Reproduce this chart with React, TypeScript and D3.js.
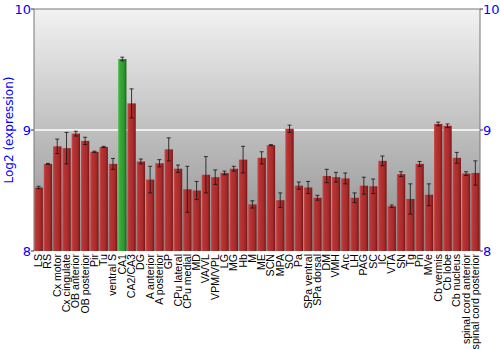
import React from "react";
import * as d3 from "d3";

const categories = ["LS","RS","Cx motor","Cx cingulate","OB anterior","OB posterior","Pir","Tu","ventral S","CA1","CA2/CA3","DG","A anterior","A posterior","GP","CPu lateral","CPu medial","MD","VA/VL","VPM/VPL","LG","MG","Hb","M","ME","SCN","MPA","SO","Pa","SPa ventral","SPa dorsal","DM","VMH","Arc","LH","PAG","SC","IC","VTA","SN","Tg","Pn","MVe","Cb vermis","Cb lobe","Cb nucleus","spinal cord anterior","spinal cord posterior"];
const values = [8.525,8.72,8.865,8.85,8.97,8.91,8.82,8.86,8.72,9.587,9.22,8.74,8.59,8.725,8.84,8.68,8.51,8.50,8.63,8.61,8.645,8.68,8.755,8.385,8.77,8.875,8.42,9.01,8.54,8.525,8.44,8.62,8.61,8.60,8.44,8.54,8.535,8.745,8.37,8.635,8.43,8.72,8.465,9.05,9.035,8.77,8.64,8.645];
const errors = [0.01,0.004,0.06,0.13,0.02,0.03,0.005,0.005,0.045,0.015,0.12,0.02,0.11,0.03,0.095,0.03,0.19,0.075,0.15,0.06,0.015,0.02,0.11,0.03,0.05,0.004,0.06,0.03,0.03,0.05,0.02,0.055,0.04,0.045,0.04,0.07,0.06,0.04,0.01,0.02,0.125,0.02,0.09,0.015,0.015,0.045,0.015,0.1];
const highlighted = ["CA1"];
const yTicks = [8, 9, 10];

export default function App() {
  const W = 500, H = 350;
  const left = 34, right = 480, top = 9, bottom = 251;
  const x = d3.scaleBand<string>().domain(categories).range([left, right]).paddingInner(0.1).paddingOuter(0.05);
  const y = d3.scaleLinear().domain([8, 10]).range([bottom, top]);
  const bw = x.bandwidth();
  return (
    <svg width={W} height={H} style={{ position: "absolute", left: 0, top: 0 }}>
      <defs>
        <linearGradient id="bg" x1="0" y1="0" x2="0" y2="1">
          <stop offset="0" stopColor="#f2f2f2" />
          <stop offset="1" stopColor="#8c8c8c" />
        </linearGradient>
        <linearGradient id="red" x1="0" y1="0" x2="1" y2="0">
          <stop offset="0" stopColor="#c85050" />
          <stop offset="0.2" stopColor="#b83434" />
          <stop offset="0.7" stopColor="#a82a2a" />
          <stop offset="1" stopColor="#701818" />
        </linearGradient>
        <linearGradient id="green" x1="0" y1="0" x2="1" y2="0">
          <stop offset="0" stopColor="#5cc05c" />
          <stop offset="0.2" stopColor="#3aaa3a" />
          <stop offset="0.7" stopColor="#2e962e" />
          <stop offset="1" stopColor="#1a661a" />
        </linearGradient>
      </defs>
      <rect x={left} y={top} width={right - left} height={bottom - top} fill="url(#bg)" />
      <line x1={left} x2={right} y1={y(9)} y2={y(9)} stroke="#ffffff" strokeWidth={1.5} />
      <path d={`M${left},${bottom}V${top}H${right}V${bottom}`} fill="none" stroke="#777" strokeWidth={1} />
      {categories.map((c, i) => {
        const x0 = x(c)!;
        const hi = highlighted.includes(c);
        const v = values[i], e = errors[i];
        const cx = x0 + bw / 2;
        return (
          <g key={c}>
            <rect x={x0} y={y(v)} width={bw} height={bottom - y(v)} fill={hi ? "url(#green)" : "url(#red)"} />
            <g stroke="#111" strokeOpacity={0.8} strokeWidth={1}>
              <line x1={cx} x2={cx} y1={y(v + e)} y2={y(v - e)} />
              <line x1={cx - 2} x2={cx + 2} y1={y(v + e)} y2={y(v + e)} />
              <line x1={cx - 2} x2={cx + 2} y1={y(v - e)} y2={y(v - e)} />
            </g>
            <text transform={`translate(${cx + 3.5},${bottom + 3}) rotate(-90)`} textAnchor="end"
              fontFamily="Liberation Sans, Arial, sans-serif" fontSize={10.6} fill="#000">{c}</text>
          </g>
        );
      })}
      {yTicks.map(t => (
        <g key={t}>
          <line x1={left - 3} x2={left} y1={y(t)} y2={y(t)} stroke="#333" />
          <line x1={right} x2={right + 3} y1={y(t)} y2={y(t)} stroke="#333" />
          <text x={left - 3} y={y(t) + 5} textAnchor="end" fontFamily="DejaVu Sans, sans-serif" fontSize={13} fill="#0000ff">{t}</text>
          <text x={right + 3} y={y(t) + 5} textAnchor="start" fontFamily="DejaVu Sans, sans-serif" fontSize={13} fill="#0000ff">{t}</text>
        </g>
      ))}
      <text transform={`translate(13,${(top + bottom) / 2}) rotate(-90)`} textAnchor="middle"
        fontFamily="DejaVu Sans, sans-serif" fontSize={12} fill="#0000ff">Log2 (expression)</text>
    </svg>
  );
}
